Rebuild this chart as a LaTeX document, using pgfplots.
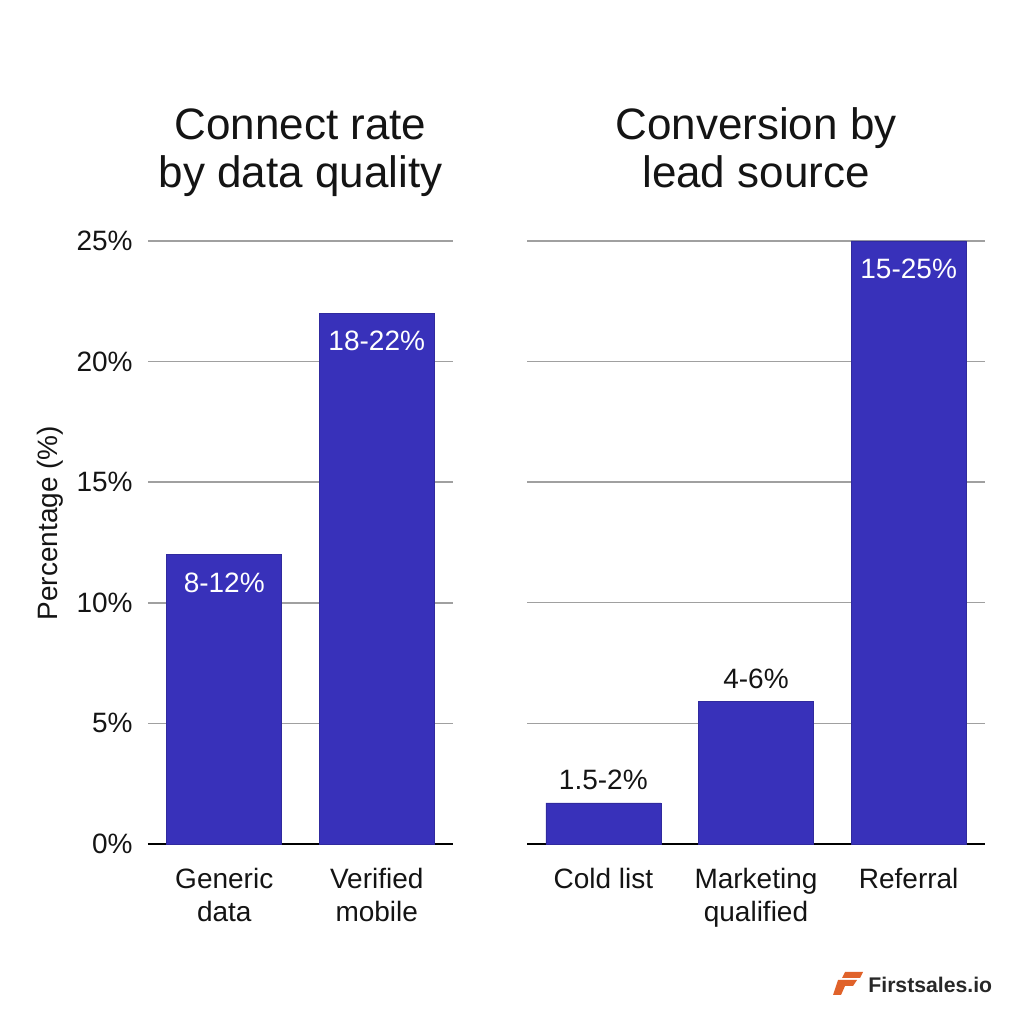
\documentclass[border=0pt]{standalone}
\usepackage{pgfplots}
\pgfplotsset{compat=1.18}
\usepackage{fontspec}
\setmainfont{Liberation Sans}
\definecolor{barblue}{RGB}{56,49,186}
\definecolor{gridgray}{RGB}{160,160,160}
\definecolor{logoorange}{RGB}{224,98,42}
\definecolor{textdark}{RGB}{20,20,20}
\begin{document}
\begin{tikzpicture}
\useasboundingbox (0,0) rectangle (512pt,512pt);
\pgfplotsset{
  common/.style={
    scale only axis, height=301.5pt, ymin=0, ymax=25,
    ytick={0,5,10,15,20,25},
    axis line style={draw=none},
    major tick length=0pt,
    ymajorgrids, grid style={gridgray, line width=0.7pt},
    extra y ticks={0}, extra y tick labels={\relax},
    extra y tick style={grid=major, major grid style={black, line width=1.3pt}, grid style={black, line width=1.3pt}},
    xtick=data,
    xticklabel style={font=\fontsize{14}{16.5}\selectfont, align=center, anchor=north, inner sep=0pt, yshift=-12pt, text=textdark},
    yticklabel style={font=\fontsize{14}{16}\selectfont, anchor=east, inner sep=0pt, xshift=-7.5pt, text=textdark},
    /pgf/number format/assume math mode=true,
    title style={font=\fontsize{22}{24}\selectfont, align=center, anchor=south, at={(0.5,1)}, yshift=20.5pt, inner sep=0pt, text depth=0pt, text=textdark},
    clip=false,
  },
  barstyle/.style={ybar, bar width=57.5pt, bar shift=0pt, fill=barblue, draw=barblue!85!black, line width=0.3pt},
  inlabel/.style={nodes near coords, point meta=explicit symbolic, every node near coord/.append style={anchor=center, yshift=-14pt, text=white, font=\fontsize{14}{16}\selectfont}},
  outlabel/.style={draw=none, mark=none, nodes near coords, point meta=explicit symbolic, every node near coord/.append style={anchor=center, yshift=11.5pt, text=textdark, font=\fontsize{14}{16}\selectfont}},
}
% Left panel
\begin{axis}[common, at={(74pt,90pt)}, anchor=south west, width=152.5pt,
  xmin=-0.5, xmax=1.5,
  xticklabels={{Generic\\data},{Verified\\mobile}},
  yticklabel={\pgfmathprintnumber{\tick}\%},
  ylabel={Percentage (\%)},
  ylabel style={font=\fontsize{14}{16}\selectfont, at={(axis description cs:-0.321,0.532)}, anchor=center, text=textdark},
  title={Connect rate\\by data quality}]
\addplot[barstyle, inlabel] coordinates {(0,12) [8-12\%] (1,22) [18-22\%]};
\end{axis}
% Right panel
\begin{axis}[common, at={(263.5pt,90pt)}, anchor=south west, width=229pt,
  xmin=-0.5, xmax=2.5,
  xticklabels={{Cold list},{Marketing\\qualified},{Referral}},
  yticklabels={},
  title={Conversion by\\lead source}]
\addplot[barstyle] coordinates {(0,1.7) (1,5.9) (2,25)};
\addplot[outlabel] coordinates {(0,1.7) [1.5-2\%] (1,5.9) [4-6\%]};
\addplot[draw=none, mark=none, inlabel] coordinates {(2,25) [15-25\%]};
\end{axis}
% Logo
\fill[logoorange] (422.5pt,26pt) -- (431.5pt,26pt) -- (430pt,23pt) -- (421pt,23pt) -- cycle;
\fill[logoorange] (419pt,22pt) -- (428.5pt,22pt) -- (426.5pt,19pt) -- (422.5pt,19pt) -- (420.5pt,14.5pt) -- (416.5pt,14.5pt) -- cycle;
\node[anchor=west, inner sep=0pt, text={rgb,255:red,40;green,40;blue,40}, font=\fontsize{10.6}{12}\selectfont\bfseries] at (434pt,19.5pt) {Firstsales.io};
\end{tikzpicture}
\end{document}
